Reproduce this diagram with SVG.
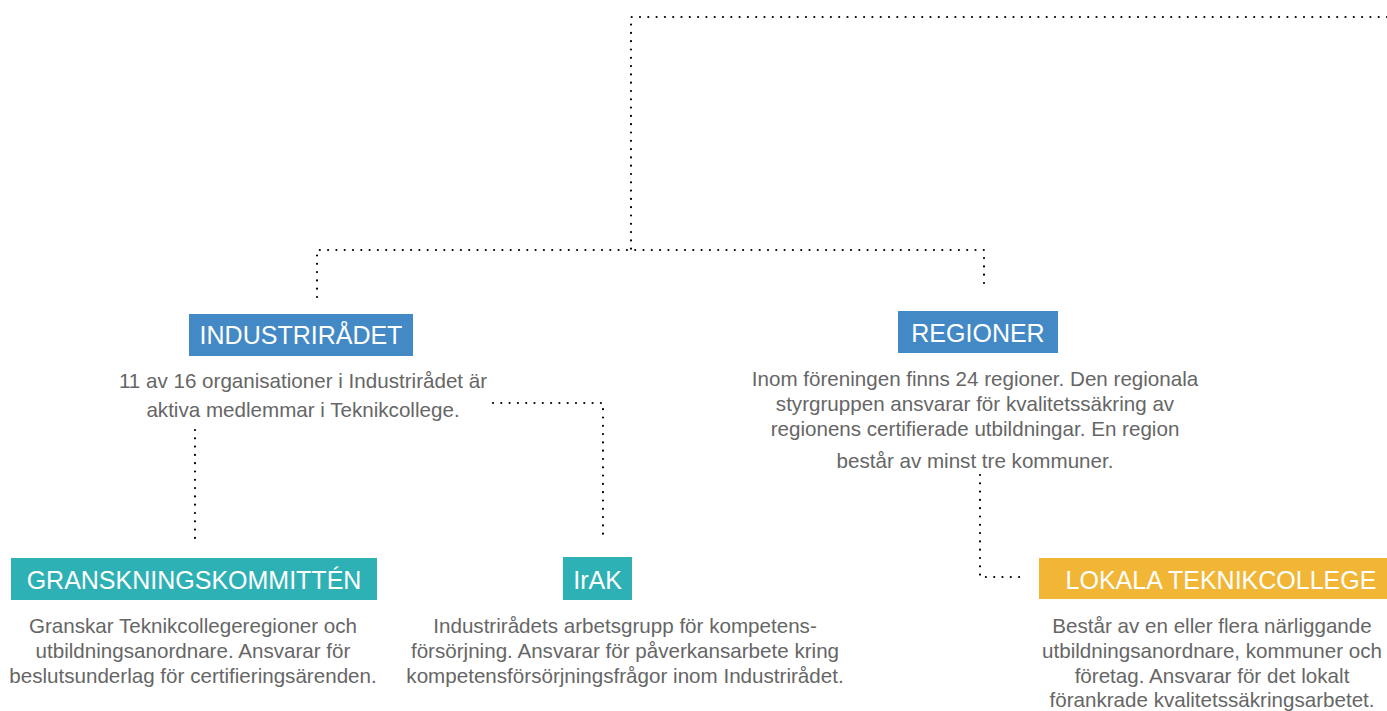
<svg xmlns="http://www.w3.org/2000/svg" width="1387" height="711" viewBox="0 0 1387 711">
<style>
.dot{fill:none;stroke:#000;stroke-width:2.2;stroke-linecap:round;stroke-dasharray:0 8.3}
.title{font-family:"Liberation Sans",Arial,sans-serif;font-size:25px;fill:#fff;text-anchor:middle}
.desc{font-family:"Liberation Sans",Arial,sans-serif;font-size:20.6px;fill:#666;text-anchor:middle}
.blue{fill:#4389c6}
.teal{fill:#2eb1b5}
.orange{fill:#f2b636}
</style>
<rect width="1387" height="711" fill="#fff"/>
<g id="connectors">
<path class="dot" d="M1387 17 H631 V250"/>
<path class="dot" d="M317 297 V250 H984 V288"/>
<path class="dot" d="M493 403 H603 V540"/>
<path class="dot" d="M195 430 V540"/>
<path class="dot" d="M980 475 V577 H1025"/>
</g>
<g id="industriradet">
<rect class="blue" x="189" y="314" width="224" height="42"/>
<text class="title" x="301" y="344">INDUSTRIRÅDET</text>
<text class="desc" x="303" y="388">11 av 16 organisationer i Industrirådet är</text>
<text class="desc" x="303" y="417">aktiva medlemmar i Teknikcollege.</text>
</g>
<g id="regioner">
<rect class="blue" x="898" y="311" width="160" height="42"/>
<text class="title" x="978" y="342">REGIONER</text>
<text class="desc" x="975" y="386">Inom föreningen finns 24 regioner. Den regionala</text>
<text class="desc" x="975" y="411">styrgruppen ansvarar för kvalitetssäkring av</text>
<text class="desc" x="975" y="436">regionens certifierade utbildningar. En region</text>
<text class="desc" x="975" y="468">består av minst tre kommuner.</text>
</g>
<g id="granskningskommitten">
<rect class="teal" x="11" y="558" width="366" height="42"/>
<text class="title" x="194" y="589">GRANSKNINGSKOMMITTÉN</text>
<text class="desc" x="193" y="633">Granskar Teknikcollegeregioner och</text>
<text class="desc" x="193" y="658">utbildningsanordnare. Ansvarar för</text>
<text class="desc" x="193" y="683">beslutsunderlag för certifieringsärenden.</text>
</g>
<g id="irak">
<rect class="teal" x="563" y="557" width="69" height="43"/>
<text class="title" x="597.5" y="589">IrAK</text>
<text class="desc" x="625" y="633">Industrirådets arbetsgrupp för kompetens-</text>
<text class="desc" x="625" y="658">försörjning. Ansvarar för påverkansarbete kring</text>
<text class="desc" x="625" y="683">kompetensförsörjningsfrågor inom Industrirådet.</text>
</g>
<g id="lokala">
<rect class="orange" x="1039" y="558" width="348" height="41"/>
<text class="title" x="1221" y="589">LOKALA TEKNIKCOLLEGE</text>
<text class="desc" x="1212" y="633">Består av en eller flera närliggande</text>
<text class="desc" x="1212" y="658">utbildningsanordnare, kommuner och</text>
<text class="desc" x="1212" y="683">företag. Ansvarar för det lokalt</text>
<text class="desc" x="1212" y="707">förankrade kvalitetssäkringsarbetet.</text>
</g>
</svg>
